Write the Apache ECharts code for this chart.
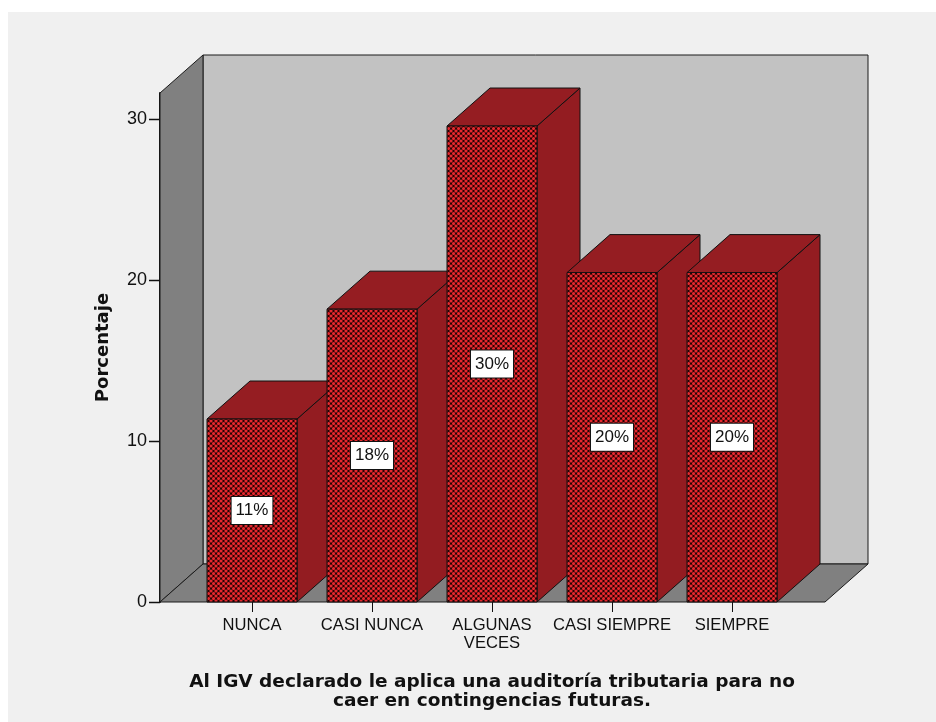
<!DOCTYPE html>
<html>
<head>
<meta charset="utf-8">
<script src="https://cdn.jsdelivr.net/npm/echarts@6/dist/echarts.min.js"></script>
<style>
  html, body { margin: 0; padding: 0; background: #ffffff; }
  #panel { position: absolute; left: 8px; top: 12px; width: 928px; height: 710px; background: #f0f0f0; }
  #chart { position: absolute; left: 0; top: 0; width: 936px; height: 722px; }
</style>
</head>
<body>
<div id="panel"></div>
<div id="chart"></div>
<script>
// Response categories and their percentage of respondents
const categories = ['NUNCA', 'CASI NUNCA', 'ALGUNAS\nVECES', 'CASI SIEMPRE', 'SIEMPRE'];
const percentages = [11.36, 18.18, 29.55, 20.45, 20.45];
// Value-axis ticks and upper bound of the box
const yTicks = [0, 10, 20, 30];
const yMax = 31.6;
const yTitle = 'Porcentaje';
const xTitle = 'Al IGV declarado le aplica una auditoría tributaria para no\ncaer en contingencias futuras.';

// 3D projection offset of the box depth (pixels)
const DX = 43, DY = -38;
const FONT = "'Liberation Sans', Arial, sans-serif";
const TITLE_FONT = "'DejaVu Sans', Verdana, sans-serif";

// Cross-hatched dotted fill for the bar fronts
function makeHatch() {
  const c = document.createElement('canvas');
  c.width = 5; c.height = 5;
  const g = c.getContext('2d');
  g.fillStyle = '#220404';
  g.fillRect(0, 0, 5, 5);
  g.fillStyle = '#e6282e';
  const dots = [[1, 1], [3.5, 3.5], [6, 1], [-1.5, 3.5], [1, 6], [6, 6], [-1.5, -1.5], [3.5, -1.5], [6, -4], [1, -4], [3.5, 8.5], [8.5, 3.5]];
  dots.forEach(function (d) {
    g.beginPath(); g.arc(d[0], d[1], 1.55, 0, Math.PI * 2); g.fill();
  });
  return c;
}
const hatch = { image: makeHatch(), repeat: 'repeat' };

const chart = echarts.init(document.getElementById('chart'), null, { renderer: 'canvas' });

// Walls, floor and value ticks of the box, placed from the grid's own axes
function renderBox(params, api) {
  const cs = params.coordSys;
  const base = api.coord([0, 0])[1];
  const topY = api.coord([0, yMax])[1];
  const xl = cs.x - 32, xr = cs.x + cs.width + 33;
  const edge = { stroke: '#1a1a1a', lineWidth: 1 };
  const children = [
    { type: 'polygon', shape: { points: [[xl + DX, topY + DY], [xr + DX, topY + DY], [xr + DX, base + DY], [xl + DX, base + DY]] },
      style: Object.assign({ fill: '#c2c2c2' }, edge) },
    { type: 'polygon', shape: { points: [[xl, base], [xl + DX, base + DY], [xl + DX, topY + DY], [xl, topY]] },
      style: Object.assign({ fill: '#808080' }, edge) },
    { type: 'polygon', shape: { points: [[xl, base], [xr, base], [xr + DX, base + DY], [xl + DX, base + DY]] },
      style: Object.assign({ fill: '#808080' }, edge) }
  ];
  yTicks.forEach(function (t) {
    const y = Math.round(api.coord([0, t])[1]) + 0.5;
    children.push({ type: 'line', shape: { x1: xl - 11, y1: y, x2: xl, y2: y }, style: { stroke: '#111', lineWidth: 1.5 } });
  });
  return { type: 'group', children: children };
}

// One 3D bar: side, top and patterned front, with its value tag
function renderBar(params, api) {
  const i = api.value(0), v = api.value(1);
  const top = api.coord([i, v]);
  const base = api.coord([i, 0]);
  const w = api.size([1, 0])[0] * 0.75;
  const x1 = top[0] - w / 2, x2 = top[0] + w / 2;
  const yT = top[1], yB = base[1];
  const edge = { stroke: '#111', lineWidth: 1 };
  return {
    type: 'group',
    children: [
      { type: 'polygon', shape: { points: [[x2, yT], [x2 + DX, yT + DY], [x2 + DX, yB + DY], [x2, yB]] },
        style: Object.assign({ fill: '#931c21' }, edge) },
      { type: 'polygon', shape: { points: [[x1, yT], [x1 + DX, yT + DY], [x2 + DX, yT + DY], [x2, yT]] },
        style: Object.assign({ fill: '#951d22' }, edge) },
      { type: 'rect', shape: { x: x1, y: yT, width: w, height: yB - yT },
        style: Object.assign({ fill: hatch }, edge) },
      { type: 'text', x: top[0], y: (yT + yB) / 2,
        style: { text: Math.round(v) + '%', font: '17px ' + FONT, fill: '#111', align: 'center', verticalAlign: 'middle',
                 backgroundColor: '#ffffff', borderColor: '#111', borderWidth: 1, padding: [4, 4, 3, 4], lineHeight: 20 } }
    ]
  };
}

chart.setOption({
  animation: false,
  backgroundColor: 'transparent',
  grid: { left: 192, top: 93, width: 600, height: 509 },
  xAxis: {
    type: 'category',
    data: categories,
    axisLine: { show: false },
    axisTick: { show: true, alignWithLabel: true, length: 10, lineStyle: { color: '#111', width: 1 } },
    axisLabel: { color: '#111', fontFamily: FONT, fontSize: 16.6, lineHeight: 18, margin: 14, interval: 0 },
    name: xTitle,
    nameLocation: 'middle',
    nameGap: 71,
    nameTextStyle: { color: '#111', fontFamily: TITLE_FONT, fontSize: 18.5, fontWeight: 'bold', lineHeight: 19, verticalAlign: 'top' }
  },
  yAxis: {
    type: 'value',
    min: 0, max: yMax, interval: 10,
    offset: 32,
    splitLine: { show: false },
    axisLine: { show: true, lineStyle: { color: '#111', width: 2 } },
    axisTick: { show: false },
    axisLabel: { color: '#111', fontFamily: FONT, fontSize: 18, margin: 13, customValues: yTicks,
                 formatter: function (v) { return yTicks.indexOf(v) >= 0 ? String(v) : ''; } },
    name: yTitle,
    nameLocation: 'middle',
    nameRotate: 90,
    nameGap: 48,
    nameTextStyle: { color: '#111', fontFamily: TITLE_FONT, fontSize: 18, fontWeight: 'bold' }
  },
  series: [
    { type: 'custom', renderItem: renderBox, data: [[0, 0]], clip: false, silent: true, z: 1 },
    { type: 'custom', renderItem: renderBar, data: percentages.map(function (v, i) { return [i, v]; }), clip: false, z: 2 }
  ]
});
</script>
</body>
</html>
